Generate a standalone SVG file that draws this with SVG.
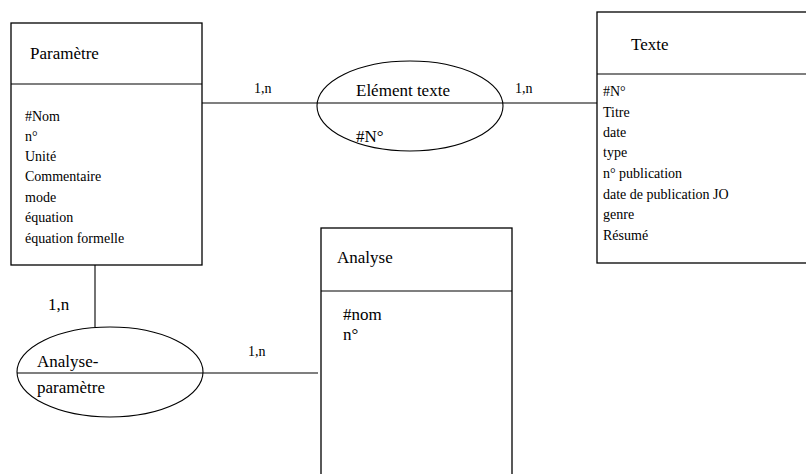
<svg xmlns="http://www.w3.org/2000/svg" width="806" height="474" viewBox="0 0 806 474">
<style>
.box{fill:#fff;stroke:#000;stroke-width:1.3}
.ln{stroke:#000;stroke-width:1.1;fill:none}
.ell{fill:none;stroke:#000;stroke-width:1.1}
text{font-family:"Liberation Serif","Times New Roman",serif;fill:#000}
.t{font-size:17px}
.a{font-size:14px}
.c{font-size:14px}
</style>
<rect width="806" height="474" fill="#fff"/>
<g id="connectors">
<line class="ln" x1="202" y1="103" x2="597" y2="103"/>
<line class="ln" x1="95" y1="265" x2="95" y2="327"/>
<line class="ln" x1="17" y1="373" x2="318" y2="373"/>
<text class="c" x="254" y="93">1,n</text>
<text class="c" x="515" y="93">1,n</text>
<text class="t" x="48" y="310">1,n</text>
<text class="c" x="248" y="356">1,n</text>
</g>
<g id="parametre">
<rect class="box" x="11" y="23" width="191" height="242"/>
<line class="ln" x1="11" y1="84" x2="202" y2="84"/>
<text class="t" x="30" y="59">Paramètre</text>
<text class="a" x="25" y="121">#Nom</text>
<text class="a" x="25" y="141">n°</text>
<text class="a" x="25" y="161">Unité</text>
<text class="a" x="25" y="181">Commentaire</text>
<text class="a" x="25" y="202">mode</text>
<text class="a" x="25" y="222">équation</text>
<text class="a" x="25" y="243">équation formelle</text>
</g>
<g id="element-texte">
<ellipse class="ell" cx="410" cy="106" rx="93" ry="45"/>
<text class="t" x="356" y="96">Elément texte</text>
<text class="t" x="356" y="142">#N°</text>
</g>
<g id="texte">
<rect class="box" x="597" y="12" width="215" height="251"/>
<line class="ln" x1="597" y1="74" x2="812" y2="74"/>
<text class="t" x="631" y="50">Texte</text>
<text class="a" x="603" y="96">#N°</text>
<text class="a" x="603" y="117">Titre</text>
<text class="a" x="603" y="137">date</text>
<text class="a" x="603" y="157">type</text>
<text class="a" x="603" y="178">n° publication</text>
<text class="a" x="603" y="199">date de publication JO</text>
<text class="a" x="603" y="219">genre</text>
<text class="a" x="603" y="240">Résumé</text>
</g>
<g id="analyse-parametre">
<ellipse class="ell" cx="110" cy="372" rx="93" ry="45"/>
<text class="t" x="37" y="367">Analyse-</text>
<text class="t" x="37" y="393">paramètre</text>
</g>
<g id="analyse">
<rect class="box" x="321" y="228" width="191" height="260"/>
<line class="ln" x1="321" y1="291" x2="512" y2="291"/>
<text class="t" x="337" y="263">Analyse</text>
<text class="t" x="343" y="320">#nom</text>
<text class="t" x="343" y="340">n°</text>
</g>
</svg>
